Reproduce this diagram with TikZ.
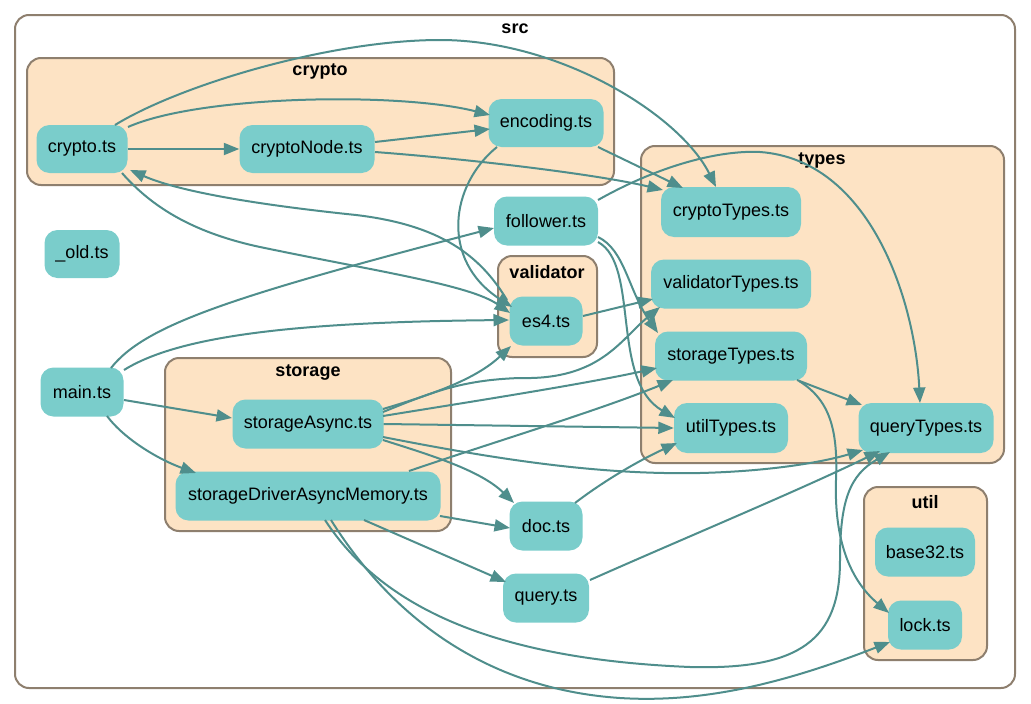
\documentclass[tikz,border=0pt]{standalone}
\usepackage{fontspec}
\setmainfont{Liberation Sans}
\usetikzlibrary{arrows.meta}
\definecolor{nodefill}{HTML}{7ACDCB}
\definecolor{clfill}{HTML}{FDE3C4}
\definecolor{clborder}{HTML}{8E7F6E}
\definecolor{edgecol}{HTML}{4F8E8C}
\begin{document}
\begin{tikzpicture}[x=1pt,y=-1pt,
  file/.style={fill=nodefill, rounded corners=13pt, inner sep=0pt, font=\fontsize{18}{20}\selectfont, text=black},
  sz/.style 2 args={minimum width=#1pt, minimum height=#2pt},
  cluster/.style={draw=clborder, fill=clfill, line width=2pt, rounded corners=14pt},
  cllabel/.style={font=\bfseries\fontsize{18}{20}\selectfont, text=black},
  edge/.style={draw=edgecol, line width=2pt, -{Triangle[length=15.5pt,width=12pt]}}]
\useasboundingbox (0,0) rectangle (1031,704);
% clusters
\draw[cluster, fill=white] (15,15) rectangle (1015,688);
\node[cllabel] (srclbl) at (515,29) {src};
\draw[cluster] (27,58) rectangle (614,185);
\node[cllabel] (cryptolbl) at (320,71) {crypto};
\draw[cluster] (641,146) rectangle (1004,463);
\node[cllabel] (typeslbl) at (822,160) {types};
\draw[cluster] (498,256) rectangle (597,357);
\node[cllabel] (validatorlbl) at (547,272) {validator};
\draw[cluster] (165,358) rectangle (451,531);
\node[cllabel] (storagelbl) at (308,373) {storage};
\draw[cluster] (864,487) rectangle (987,660);
\node[cllabel] (utillbl) at (925,502) {util};
% nodes
\node[file, sz={91}{48}] (crypto) at (82,149) {crypto.ts};
\node[file, sz={135}{48}] (cryptoNode) at (307,149) {cryptoNode.ts};
\node[file, sz={115}{48}] (encoding) at (546,123) {encoding.ts};
\node[file, sz={75}{48}] (old) at (82,254) {\_old.ts};
\node[file, sz={104}{49}] (follower) at (546,221) {follower.ts};
\node[file, sz={73}{49}] (es4) at (546,321) {es4.ts};
\node[file, sz={140}{50}] (cryptoTypes) at (731,212) {cryptoTypes.ts};
\node[file, sz={160}{49}] (validatorTypes) at (731,284) {validatorTypes.ts};
\node[file, sz={152}{49}] (storageTypes) at (731,356) {storageTypes.ts};
\node[file, sz={114}{50}] (utilTypes) at (731,428) {utilTypes.ts};
\node[file, sz={135}{50}] (queryTypes) at (926,428) {queryTypes.ts};
\node[file, sz={83}{49}] (main) at (82,392) {main.ts};
\node[file, sz={151}{49}] (storageAsync) at (308,424) {storageAsync.ts};
\node[file, sz={265}{49}] (storageDriver) at (308,496) {storageDriverAsyncMemory.ts};
\node[file, sz={73}{49}] (doc) at (546,526) {doc.ts};
\node[file, sz={86}{49}] (query) at (546,598) {query.ts};
\node[file, sz={100}{49}] (base32) at (925,552) {base32.ts};
\node[file, sz={74}{49}] (lock) at (925,625) {lock.ts};
% edges
\draw[edge] (crypto.east) -- (cryptoNode.west);
\draw[edge] ([shift={(46,-22)}]crypto.center) .. controls (200,95) and (400,92) .. ([shift={(-56,-8)}]encoding.center);
\draw[edge] ([shift={(33,-24)}]crypto.center) .. controls (180,85) and (330,40) .. (440,40) .. controls (560,40) and (680,115) .. ([shift={(-15,-25)}]cryptoTypes.center);
\draw[edge] ([shift={(68,-7)}]cryptoNode.center) -- ([shift={(-56,6)}]encoding.center);
\draw[edge] ([shift={(68,3)}]cryptoNode.center) .. controls (480,160) and (600,175) .. ([shift={(-68,-22)}]cryptoTypes.center);
\draw[edge] ([shift={(52,24)}]encoding.center) -- ([shift={(-48,-24)}]cryptoTypes.center);
\draw[edge] ([shift={(-49,24)}]encoding.center) .. controls (450,185) and (440,260) .. ([shift={(-34,-14)}]es4.center);
\draw[edge] ([shift={(-39,-21)}]es4.center) .. controls (480,255) and (440,225) .. (356,215) .. controls (260,205) and (180,192) .. ([shift={(48,21)}]crypto.center);
\draw[edge] ([shift={(40,24)}]crypto.center) .. controls (150,205) and (190,232) .. (260,247) .. controls (380,272) and (470,285) .. ([shift={(-36,-8)}]es4.center);
\draw[edge] ([shift={(52,-21)}]follower.center) .. controls (660,165) and (720,150) .. (760,152) .. controls (870,160) and (915,300) .. ([shift={(-6,-25)}]queryTypes.center);
\draw[edge] ([shift={(52,16)}]follower.center) .. controls (625,250) and (628,290) .. ([shift={(-73,-23)}]storageTypes.center);
\draw[edge] ([shift={(52,21)}]follower.center) .. controls (640,265) and (610,380) .. ([shift={(-56,-10)}]utilTypes.center);
\draw[edge] ([shift={(37,-5)}]es4.center) -- ([shift={(-78,15)}]validatorTypes.center);
\draw[edge] ([shift={(29,-24)}]main.center) .. controls (145,325) and (230,297) .. ([shift={(-52,7)}]follower.center);
\draw[edge] ([shift={(42,-22)}]main.center) .. controls (180,335) and (300,322) .. ([shift={(-37,-1)}]es4.center);
\draw[edge] ([shift={(42,8)}]main.center) -- ([shift={(-76,-6)}]storageAsync.center);
\draw[edge] ([shift={(25,24)}]main.center) .. controls (125,440) and (160,460) .. ([shift={(-112,-23)}]storageDriver.center);
\draw[edge] ([shift={(75,-15)}]storageAsync.center) .. controls (430,395) and (475,380) .. ([shift={(-35,25)}]es4.center);
\draw[edge] ([shift={(75,-12)}]storageAsync.center) .. controls (430,393) and (460,380) .. (520,378) .. controls (600,380) and (620,340) .. ([shift={(-71,23)}]validatorTypes.center);
\draw[edge] ([shift={(75,-8)}]storageAsync.center) .. controls (450,405) and (580,385) .. ([shift={(-74,12)}]storageTypes.center);
\draw[edge] (storageAsync.east) -- (utilTypes.west);
\draw[edge] ([shift={(75,13)}]storageAsync.center) .. controls (500,460) and (600,475) .. (700,473) .. controls (780,471) and (830,460) .. ([shift={(-63,22)}]queryTypes.center);
\draw[edge] ([shift={(75,16)}]storageAsync.center) .. controls (430,455) and (480,470) .. ([shift={(-32,-23)}]doc.center);
\draw[edge] ([shift={(101,-25)}]storageDriver.center) .. controls (500,440) and (600,410) .. ([shift={(-58,24)}]storageTypes.center);
\draw[edge] ([shift={(132,20)}]storageDriver.center) -- ([shift={(-36,2)}]doc.center);
\draw[edge] ([shift={(56,24)}]storageDriver.center) -- ([shift={(-40,-16)}]query.center);
\draw[edge] ([shift={(17,24)}]storageDriver.center) .. controls (390,620) and (520,660) .. (690,667) .. controls (800,670) and (840,640) .. (840,560) .. controls (840,500) and (850,475) .. ([shift={(-36,24)}]queryTypes.center);
\draw[edge] ([shift={(23,24)}]storageDriver.center) .. controls (400,630) and (500,690) .. (620,698) .. controls (700,703) and (780,685) .. ([shift={(-35,17)}]lock.center);
\draw[edge] ([shift={(66,24)}]storageTypes.center) -- ([shift={(-64,-23)}]queryTypes.center);
\draw[edge] ([shift={(68,25)}]storageTypes.center) .. controls (830,400) and (838,430) .. (836,480) .. controls (834,540) and (850,580) .. ([shift={(-36,-12)}]lock.center);
\draw[edge] ([shift={(29,-23)}]doc.center) .. controls (605,480) and (640,460) .. ([shift={(-54,15)}]utilTypes.center);
\draw[edge] ([shift={(44,-18)}]query.center) .. controls (680,540) and (800,490) .. ([shift={(-46,23)}]queryTypes.center);
\end{tikzpicture}
\end{document}
